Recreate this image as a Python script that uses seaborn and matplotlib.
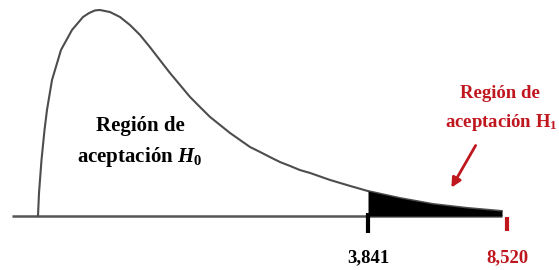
import pandas as pd
import matplotlib.pyplot as plt
import seaborn as sns

# Curve points (x in chi-square units, y = relative height)
curve_x = [-7.267, -7.233, -7.149, -7.048, -6.964, -6.796, -6.493, -6.123, -5.752,
           -5.550, -5.348, -5.180, -4.843, -4.507, -4.170, -3.834, -3.500, -3.163,
           -2.824, -2.487, -2.151, -1.814, -1.478, -1.141, -0.804, -0.468, -0.131,
           0.205, 0.542, 0.878, 1.215, 1.551, 1.888, 2.561, 3.235, 3.841, 4.918,
           6.029, 7.173, 8.351]
curve_y = [0.0, 0.112, 0.272, 0.417, 0.515, 0.660, 0.806, 0.903, 0.966,
           0.985, 0.998, 1.000, 0.990, 0.966, 0.927, 0.879, 0.820, 0.757,
           0.694, 0.636, 0.578, 0.529, 0.481, 0.442, 0.403, 0.369, 0.335,
           0.311, 0.286, 0.262, 0.243, 0.223, 0.209, 0.175, 0.146, 0.121, 0.087,
           0.058, 0.039, 0.024]

critical_value = 3.841
statistic_value = 8.520
tick_labels = ["3,841", "8,520"]
axis_start, axis_end = -8.14, 8.35

red = "#c0161e"
dark = "#4d4d4d"

df = pd.DataFrame({"x": curve_x, "y": curve_y})
tail = df[df["x"] >= critical_value]

sns.set_style("white")
plt.rcParams["font.family"] = ["Liberation Serif", "DejaVu Serif"]
plt.rcParams["mathtext.fontset"] = "custom"
plt.rcParams["mathtext.rm"] = "Liberation Serif:bold"
plt.rcParams["mathtext.it"] = "Liberation Serif:italic:bold"

fig = plt.figure(figsize=(5.59, 2.70), dpi=100)
ax = fig.add_axes([0, 0, 1, 1])

# baseline
ax.hlines(0, axis_start, axis_end, color="#555555", lw=1.8, zorder=1)

# density curve and rejection tail
sns.lineplot(data=df, x="x", y="y", sort=False, estimator=None,
             color=dark, lw=1.5, ax=ax, zorder=2, solid_joinstyle="round")
ax.fill_between(tail["x"], 0, tail["y"], color="black", lw=0, zorder=3)

# tick marks
ax.vlines(critical_value, -0.083, 0.015, color="black", lw=3, zorder=4)
ax.vlines(statistic_value, -0.073, -0.005, color=red, lw=3, zorder=4)
ax.text(critical_value, -0.204, tick_labels[0], ha="center", va="center",
        fontsize=13.5, fontweight="bold", color="black")
ax.text(statistic_value, -0.204, tick_labels[1], ha="center", va="center",
        fontsize=13.5, fontweight="bold", color=red)

# labels
ax.text(-3.83, 0.437, "Región de", ha="center", va="center",
        fontsize=15, fontweight="bold", color="black")
ax.text(-3.83, 0.286, r"aceptación $H_{\mathit{0}}$", ha="center", va="center",
        fontsize=15, fontweight="bold", color="black")

ax.text(8.29, 0.597, "Región de", ha="center", va="center",
        fontsize=13.5, fontweight="bold", color=red)
ax.text(6.43, 0.456, r"aceptación $\mathrm{H}_1$", ha="left", va="center",
        fontsize=13.5, fontweight="bold", color=red)

ax.annotate("", xy=(6.60, 0.126), xytext=(7.51, 0.354),
            arrowprops=dict(arrowstyle="-|>", color=red, lw=2, mutation_scale=14))

ax.set_xlim((0 - 253.9) / 29.71, (559 - 253.9) / 29.71)
ax.set_ylim(-54 / 206, 216 / 206)
ax.axis("off")

fig.savefig("out.png", dpi=100)
